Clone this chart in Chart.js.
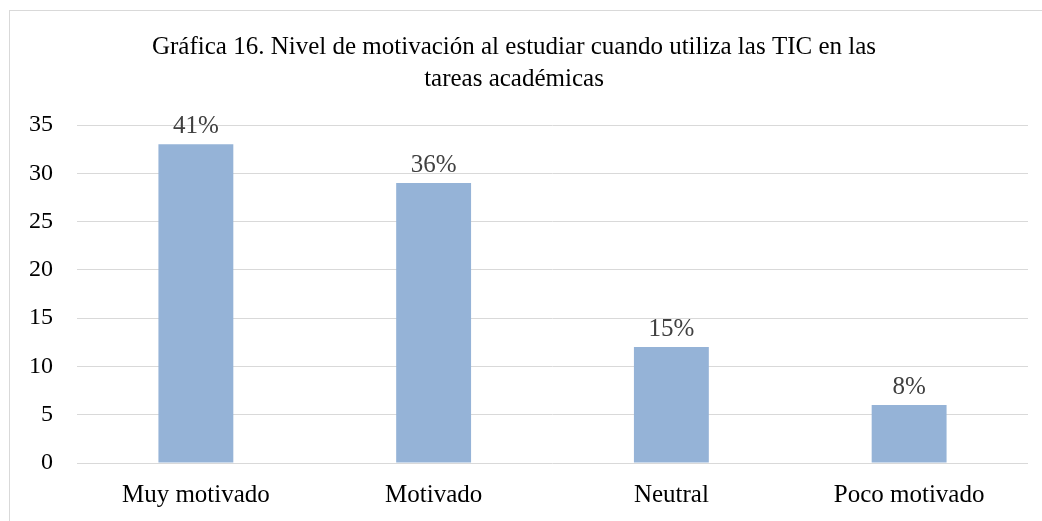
<!DOCTYPE html>
<html>
<head>
<meta charset="utf-8">
<script src="https://cdn.jsdelivr.net/npm/chart.js@4.4.1/dist/chart.umd.min.js"></script>
<style>
  html, body { margin: 0; padding: 0; background: #fff; }
  .wrap { position: relative; width: 1042px; height: 521px; overflow: hidden; }
  .frame { position: absolute; left: 9px; top: 10px; width: 1100px; height: 600px; border: 1px solid #d9d9d9; pointer-events: none; }
  canvas { display: block; }
</style>
</head>
<body>
<div class="wrap">
  <canvas id="chart" width="1042" height="521"></canvas>
  <div class="frame"></div>
</div>
<script>
const categories = ["Muy motivado", "Motivado", "Neutral", "Poco motivado"];
const values = [33, 29, 12, 6];
const percentLabels = ["41%", "36%", "15%", "8%"];
const titleLines = [
  "Gráfica 16. Nivel de motivación al estudiar cuando utiliza las TIC en las",
  "tareas académicas"
];

const FONT = "'Liberation Serif', 'Times New Roman', serif";

// etiquetas de porcentaje encima de cada barra
const barLabels = {
  id: "barLabels",
  afterDatasetsDraw(chart) {
    const ctx = chart.ctx;
    const meta = chart.getDatasetMeta(0);
    ctx.save();
    ctx.font = "25px " + FONT;
    ctx.fillStyle = "#404040";
    ctx.textAlign = "center";
    ctx.textBaseline = "middle";
    meta.data.forEach((bar, i) => {
      ctx.fillText(percentLabels[i], bar.x, bar.y - 18);
    });
    ctx.restore();
  },
};

new Chart(document.getElementById("chart"), {
  type: "bar",
  data: {
    labels: categories,
    datasets: [
      {
        data: values,
        backgroundColor: "#95b3d7",
        categoryPercentage: 1,
        barPercentage: 0.315,
      },
    ],
  },
  options: {
    responsive: false,
    animation: false,
    layout: { padding: { left: 0, right: 14, top: 0, bottom: 0 } },
    plugins: {
      legend: { display: false },
      tooltip: { enabled: false },
      title: {
        display: true,
        text: titleLines,
        color: "#000",
        font: { family: FONT, size: 25, weight: "normal", lineHeight: 1.28 },
        padding: { top: 31, bottom: 30 },
      },
    },
    scales: {
      x: {
        grid: { display: false, drawTicks: false },
        border: { display: false },
        ticks: {
          color: "#000",
          font: { family: FONT, size: 25 },
          padding: 17,
          maxRotation: 0,
        },
        afterFit(scale) {
          scale.height = 58;
        },
      },
      y: {
        min: 0,
        max: 35,
        ticks: {
          stepSize: 5,
          color: "#000",
          font: { family: FONT, size: 24 },
          padding: 24,
        },
        grid: { color: "#d9d9d9", drawTicks: false },
        border: { display: false },
        afterFit(scale) {
          scale.width = 77;
        },
      },
    },
  },
  plugins: [barLabels],
});
</script>
</body>
</html>
